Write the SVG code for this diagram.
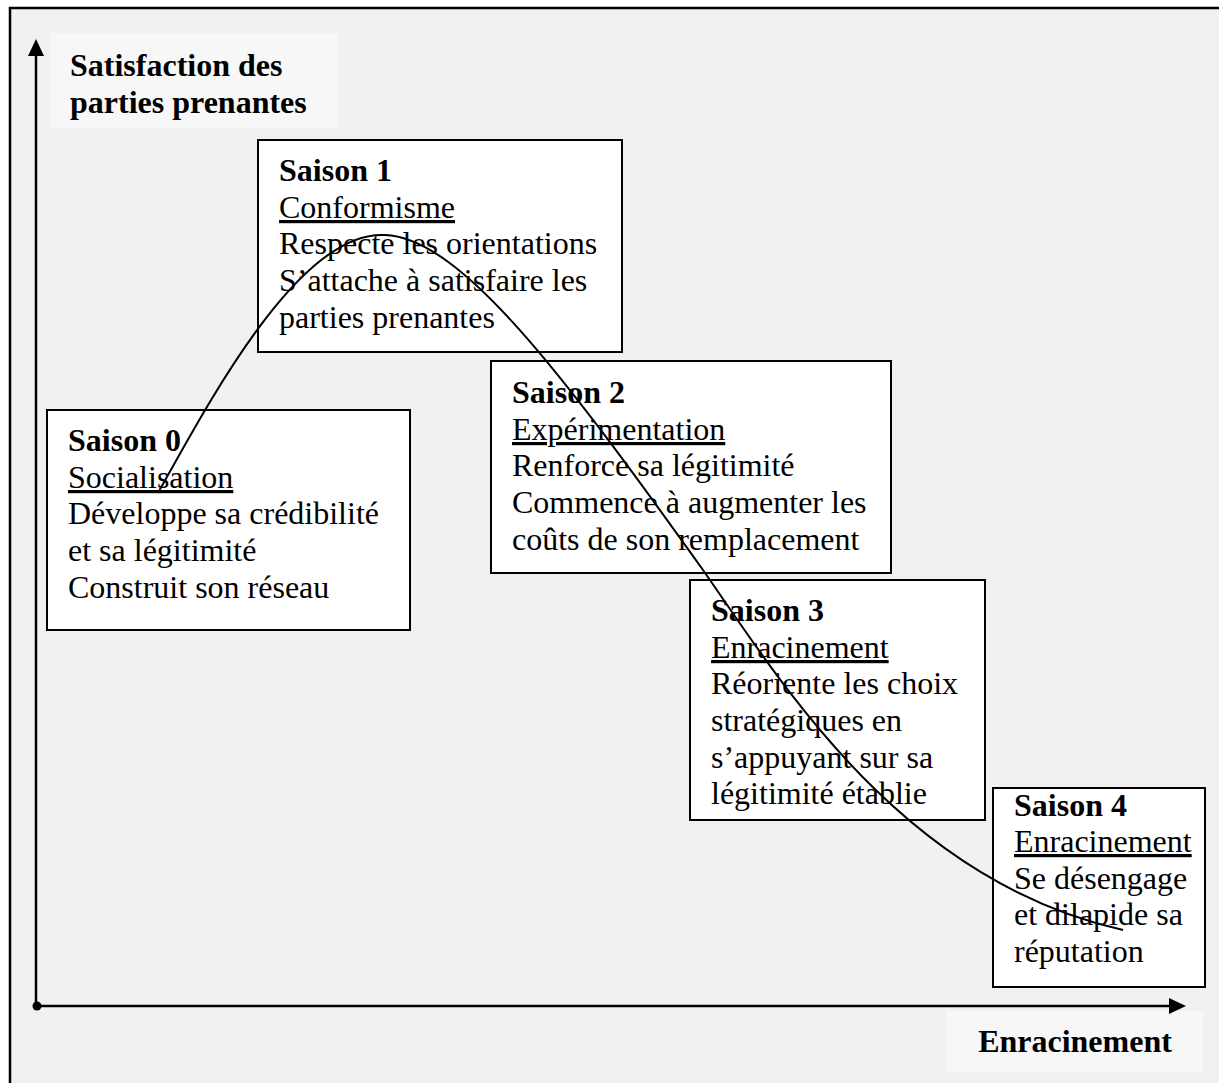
<svg xmlns="http://www.w3.org/2000/svg" width="1219" height="1083" viewBox="0 0 1219 1083">
<defs>
<style>
.box{fill:#ffffff;stroke:#000;stroke-width:2}
.t{font-family:"Liberation Serif","Times New Roman",serif;font-size:32px;fill:#000}
.b{font-weight:bold}
.u{text-decoration:underline}
.lab{font-family:"Liberation Serif","Times New Roman",serif;font-size:32px;font-weight:bold;fill:#000}
.axis{stroke:#000;stroke-width:2.5;fill:none}
</style>
</defs>
<rect x="10" y="8" width="1230" height="1090" fill="#f1f1f1" stroke="#000" stroke-width="2.5"/>
<g id="axis-y-label">
<rect x="50" y="33" width="288" height="95" fill="#f7f7f7"/>
<text class="lab" x="70" y="76">Satisfaction des</text>
<text class="lab" x="70" y="113">parties prenantes</text>
</g>
<g id="axis-x-label">
<rect x="946" y="1011" width="257" height="61" fill="#f7f7f7"/>
<text class="lab" x="1075" y="1052" text-anchor="middle">Enracinement</text>
</g>
<g id="saison0">
<rect class="box" x="47" y="410" width="363" height="220"/>
<text class="t"><tspan class="b" x="68" y="451">Saison 0</tspan><tspan class="u" x="68" y="488">Socialisation</tspan><tspan x="68" y="524">Développe sa crédibilité</tspan><tspan x="68" y="561">et sa légitimité</tspan><tspan x="68" y="598">Construit son réseau</tspan></text>
</g>
<g id="saison1">
<rect class="box" x="258" y="140" width="364" height="212"/>
<text class="t"><tspan class="b" x="279" y="181">Saison 1</tspan><tspan class="u" x="279" y="218">Conformisme</tspan><tspan x="279" y="254">Respecte les orientations</tspan><tspan x="279" y="291">S’attache à satisfaire les</tspan><tspan x="279" y="328">parties prenantes</tspan></text>
</g>
<g id="saison2">
<rect class="box" x="491" y="361" width="400" height="212"/>
<text class="t"><tspan class="b" x="512" y="403">Saison 2</tspan><tspan class="u" x="512" y="440">Expérimentation</tspan><tspan x="512" y="476">Renforce sa légitimité</tspan><tspan x="512" y="513">Commence à augmenter les</tspan><tspan x="512" y="550">coûts de son remplacement</tspan></text>
</g>
<g id="saison3">
<rect class="box" x="690" y="580" width="295" height="240"/>
<text class="t"><tspan class="b" x="711" y="621">Saison 3</tspan><tspan class="u" x="711" y="658">Enracinement</tspan><tspan x="711" y="694">Réoriente les choix</tspan><tspan x="711" y="731">stratégiques en</tspan><tspan x="711" y="768">s’appuyant sur sa</tspan><tspan x="711" y="804">légitimité établie</tspan></text>
</g>
<g id="saison4">
<rect class="box" x="993" y="788" width="212" height="199"/>
<text class="t"><tspan class="b" x="1014" y="816">Saison 4</tspan><tspan class="u" x="1014" y="852">Enracinement</tspan><tspan x="1014" y="889">Se désengage</tspan><tspan x="1014" y="925">et dilapide sa</tspan><tspan x="1014" y="962">réputation</tspan></text>
</g>
<g id="connectors">
<line class="axis" x1="36" y1="1006" x2="36" y2="52"/>
<polygon points="36,39 28,56 44,56" fill="#000"/>
<line class="axis" x1="37" y1="1006" x2="1172" y2="1006"/>
<polygon points="1186,1006 1169,998 1169,1014" fill="#000"/>
<circle cx="37" cy="1006" r="4.5" fill="#000"/>
<path d="M158,493 C210,400 300,230 385,235 C460,238 560,370 703,570 C780,680 900,880 1123,930" fill="none" stroke="#000" stroke-width="2"/>
</g>
</svg>
